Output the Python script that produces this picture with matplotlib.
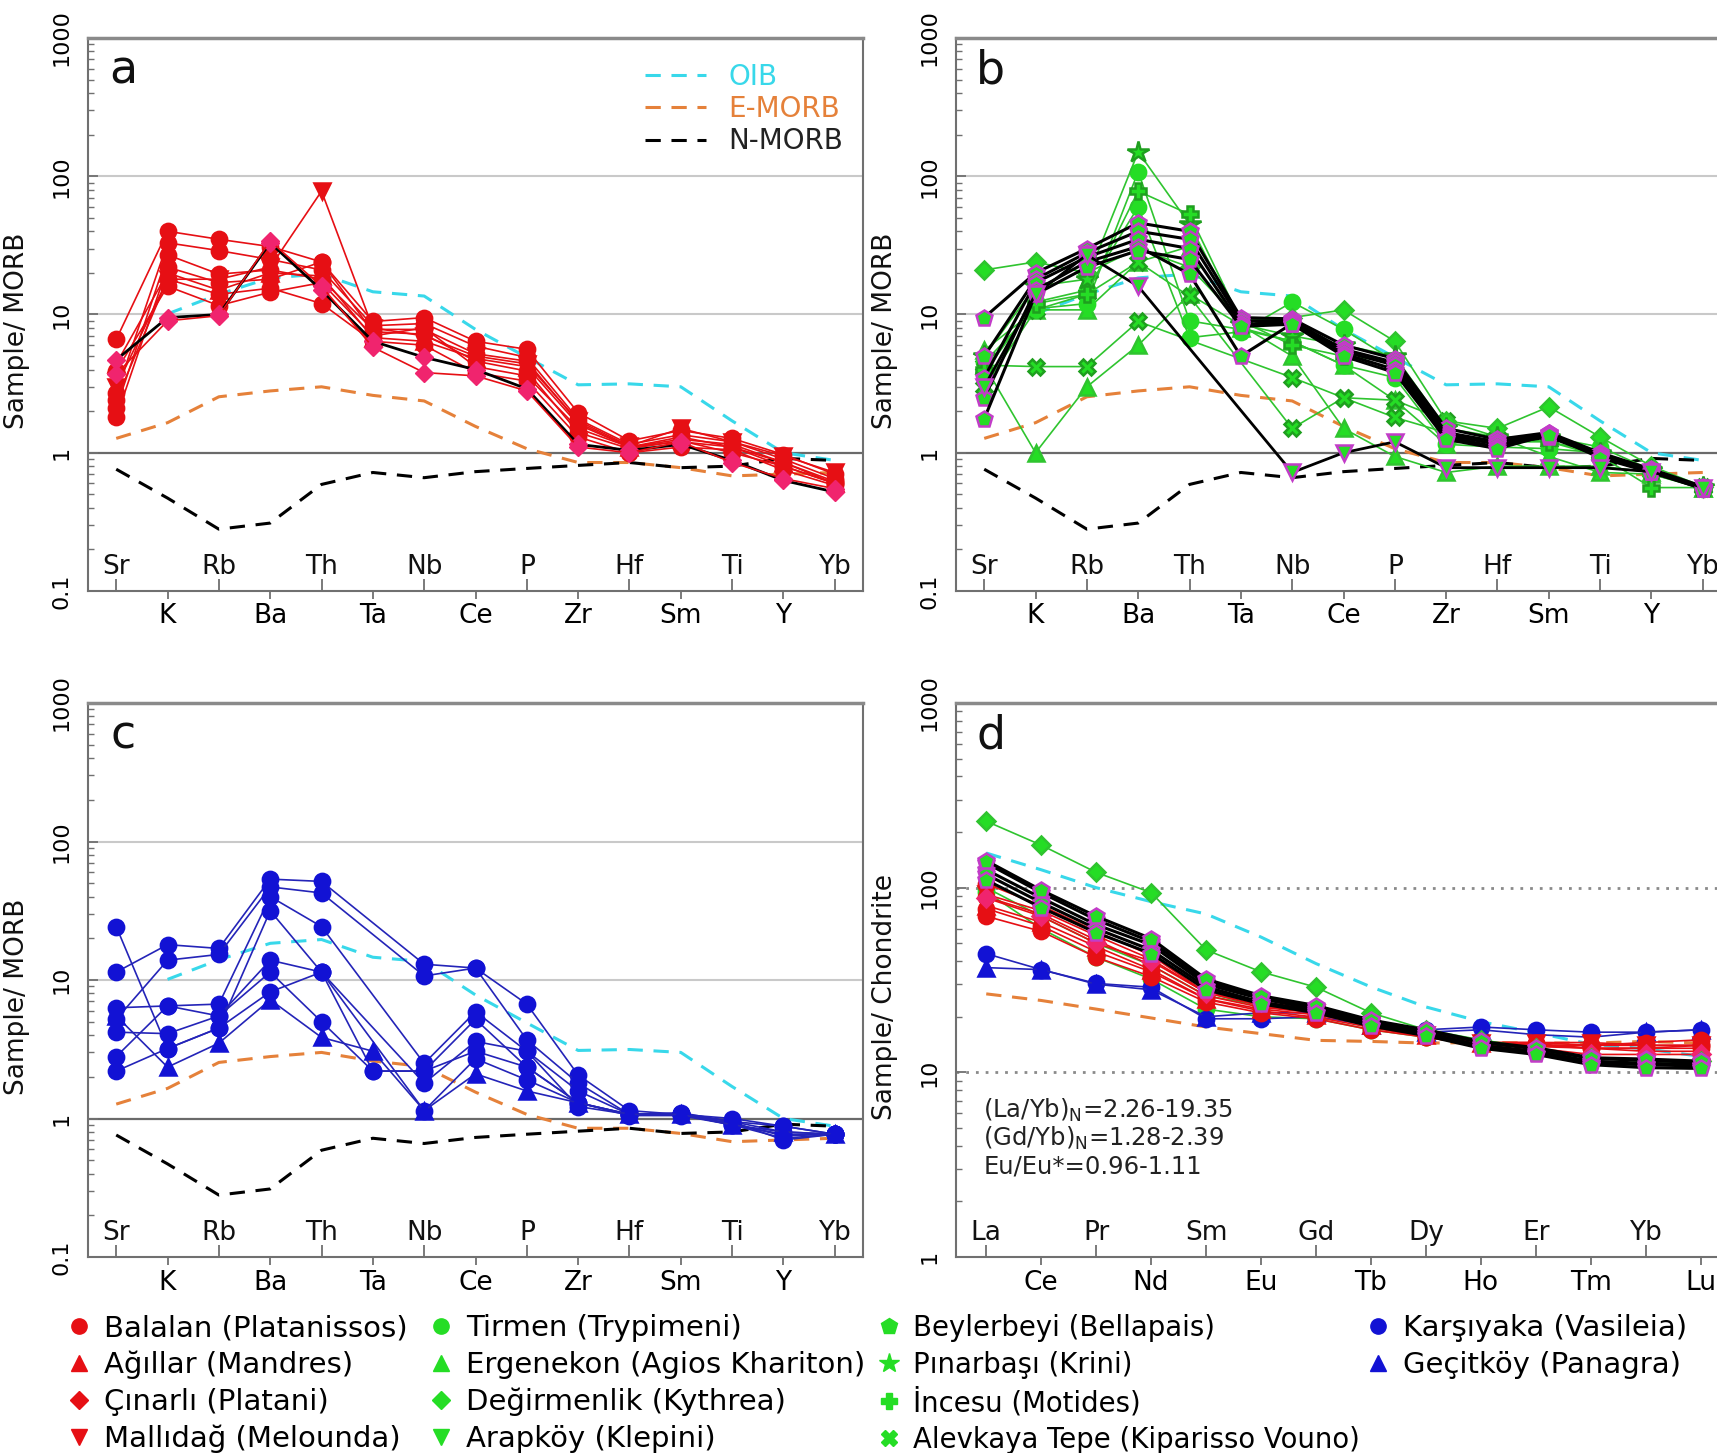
import numpy as np
import matplotlib
matplotlib.use("Agg")
import matplotlib.pyplot as plt
from matplotlib.lines import Line2D
from matplotlib.transforms import blended_transform_factory

plt.rcParams['font.family'] = ['DejaVu Sans']
nan = np.nan

# ---------------- categories ----------------
spider_elements = ["Sr", "K", "Rb", "Ba", "Th", "Ta", "Nb", "Ce", "P", "Zr", "Hf", "Sm", "Ti", "Y", "Yb"]
ree_elements = ["La", "Ce", "Pr", "Nd", "Sm", "Eu", "Gd", "Tb", "Dy", "Ho", "Er", "Tm", "Yb", "Lu"]

# ---------------- reference patterns ----------------
oib_morb = [nan, 10.1, 14, 18.4, 19.6, 14.6, 13.6, 7.8, 4.9, 3.1, 3.15, 3.0, 1.7, 1.0, 0.88]
emorb_morb = [1.27, 1.65, 2.54, 2.8, 3.0, 2.6, 2.37, 1.55, 1.07, 0.85, 0.85, 0.78, 0.68, 0.7, 0.72]
nmorb_morb = [0.76, 0.47, 0.28, 0.31, 0.59, 0.72, 0.66, 0.73, 0.77, 0.81, 0.85, 0.78, 0.8, 0.91, 0.88]
oib_chon = [154, 125, 100, 84, 72, 54, 38.8, 29, 22.6, 18.8, 16.4, 14.2, 13.4, 12.2]
emorb_chon = [26.6, 24.5, 22, 19.7, 17.6, 16.2, 14.9, 14.7, 14.4, 14.5, 14.4, 14.4, 14.7, 14.4]

# ---------------- panel a (MORB-normalised) ----------------
balalan_a = [
    [6.6, 40, 35, 31, 24, 8.9, 9.5, 6.4, 5.6, 1.95, 1.22, 1.45, 1.27, 0.97, 0.70],
    [2.7, 33, 29, 25, 21, 8.3, 8.6, 5.9, 4.9, 1.75, 1.15, 1.35, 1.20, 0.90, 0.65],
    [2.1, 27, 19.6, 21, 18, 7.8, 7.8, 5.2, 4.6, 1.65, 1.10, 1.30, 1.10, 0.85, 0.62],
    [1.8, 22, 17, 18, 24, 7.5, 7.2, 4.6, 3.9, 1.40, 1.07, 1.22, 1.00, 0.80, 0.60],
    [2.4, 18, 14, 15.5, 12, 6.4, 6.0, 3.8, 3.3, 1.30, 1.00, 1.10, 1.05, 0.75, 0.58],
    [3.9, 16, 11.6, 14.5, 17, 7.0, 8.0, 4.2, 3.6, 1.50, 1.10, 1.20, 1.10, 0.80, 0.60],
]
agillar_a = [[4.4, 20, 15, 20, 19, 6.8, 6.4, 4.8, 4.2, 1.6, 1.10, 1.25, 1.15, 0.85, 0.60]]
cinarli_a = [
    [4.7, 9.5, 10, 33, 15, 6.4, 4.9, 4.0, 2.9, 1.15, 1.04, 1.15, 0.88, 0.63, 0.52],
    [3.7, 9.0, 9.8, 34, 16, 5.8, 3.8, 3.6, 2.8, 1.10, 1.00, 1.20, 0.85, 0.65, 0.55],
]
mallidag_a = [[3.0, 18, 18, 22, 78, 8.0, 7.0, 5.0, 4.4, 1.7, 1.12, 1.5, 1.2, 0.95, 0.72]]

# ---------------- panel b ----------------
beylerbeyi_b = [
    [9.5, 20, 30, 46, 40, 9.5, 9.3, 6.0, 4.8, 1.50, 1.25, 1.40, 1.00, 0.76, 0.57],
    [5.0, 18, 28, 40, 35, 9.0, 9.0, 5.6, 4.5, 1.40, 1.20, 1.35, 0.97, 0.75, 0.56],
    [3.5, 17, 26, 35, 30, 8.5, 8.8, 5.4, 4.3, 1.35, 1.15, 1.30, 0.95, 0.74, 0.56],
    [2.5, 15, 24, 31, 19.6, 5.0, 8.6, 5.2, 4.0, 1.30, 1.10, 1.40, 0.93, 0.73, 0.55],
    [1.76, 14, 22, 29, 25, 8.2, 8.5, 5.0, 3.8, 1.25, 1.07, 1.35, 0.92, 0.72, 0.55],
]
arapkoy_b = [[3.0, 14, 27, 16, nan, nan, 0.72, 1.0, 1.2, 0.78, 0.78, 0.78, 0.78, 0.73, 0.56]]
degirmenlik_b = [[21, 24, 20, 30, 22, 9, 9.5, 10.8, 6.4, 1.7, 1.5, 2.15, 1.3, 0.8, 0.57]]
pinarbasi_b = [[5, 16, 18, 150, 45, 8.5, 7, 6, 5, 1.5, 1.3, 1.3, 1.0, 0.75, 0.57]]
incesu_b = [[4, 12, 14, 78, 53, 9, 6, 5, 4.6, 1.4, 1.2, 1.2, 0.95, 0.56, 0.56]]
tirmen_b = [
    [4.5, 11, 12, 108, 9, 7.8, 6.4, 4.3, 3.5, 1.15, 1.1, 1.07, 1.0, 0.7, 0.55],
    [3.8, 12.3, 15, 60, 6.8, 7.5, 12.3, 7.8, 4.6, 1.3, 1.2, 1.3, 1.1, 0.75, 0.57],
]
ergenekon_b = [
    [4.3, 1.0, 3.0, 6.0, 14, nan, 5, 1.5, 0.94, 0.72, 0.8, 0.8, 0.8, 0.72, 0.56],
    [5.5, 10.8, 10.8, 24, 31, 8, 6.4, 4.3, 2.4, 1.15, 1.3, 0.94, 0.72, 0.7, 0.56],
]
alevkaya_b = [
    [4.3, 4.2, 4.2, 8.9, nan, nan, 3.5, 2.5, 1.8, 1.4, 1.2, 1.3, 0.95, 0.72, 0.56],
    [3.0, 10.8, 14, 24, 13.5, nan, 1.5, 2.5, 2.4, 1.7, 1.3, 1.2, 1.0, 0.75, 0.57],
]

# ---------------- panel c ----------------
karsiyaka_c = [
    [11.4, 18, 16.9, 53.5, 51.5, nan, 13, 12.2, 6.7, 2.06, 1.14, 1.07, 1.0, 0.88, 0.77],
    [5.2, 13.9, 15.3, 47, 42.5, nan, 10.7, 12.2, 3.7, 1.8, 1.07, 1.07, 0.9, 0.77, 0.77],
    [2.8, 6.5, 6.7, 40, 24.3, nan, 2.5, 5.9, 3.06, 1.58, 1.07, 1.1, 0.95, 0.88, 0.77],
    [24.3, 3.2, 4.5, 31.6, 11.4, 2.2, 2.2, 5.2, 2.35, 1.3, 1.07, 1.07, 0.95, 0.70, 0.77],
    [6.3, 6.5, 5.5, 13.9, 11.4, nan, 1.8, 3.6, 3.06, 1.22, 1.07, 1.07, 0.92, 0.75, 0.77],
    [4.2, 4.1, 5.5, 11.4, 5.0, 2.2, 2.2, 3.06, 2.35, 1.3, 1.07, 1.07, 0.95, 0.80, 0.77],
    [2.2, 3.2, 4.5, 8.2, 11.4, nan, 1.14, 2.7, 1.9, 1.3, 1.05, 1.05, 0.9, 0.72, 0.77],
]
gecitkoy_c = [[5.5, 2.35, 3.5, 7.2, 3.85, 3.06, 1.14, 2.1, 1.58, 1.3, 1.07, 1.07, 0.9, 0.8, 0.77]]

# ---------------- panel d (chondrite-normalised REE) ----------------
balalan_d = [
    [89, 72, 52, 38, 26, 22.5, 21, 18.5, 16, 14.5, 14.3, 13.5, 13.5, 14],
    [77, 62, 45, 35, 24.9, 21.5, 19.9, 17.5, 15.5, 14, 13.8, 13.5, 13.5, 13.5],
    [70, 58, 42, 33, 24, 21, 19.5, 17, 15.5, 14, 14, 14, 14.5, 15],
    [105, 80, 58, 43, 27, 23, 21.5, 18.5, 16.5, 14.5, 14.5, 14, 14, 14],
]
agillar_d = [[80, 65, 48, 36, 25, 22, 20.5, 18, 16, 14.5, 14, 13.5, 13, 13]]
cinarli_d = [[88, 70, 50, 40, 27, 24, 22, 19, 16.5, 14.5, 13.5, 12.5, 12.5, 12.5]]
mallidag_d = [[92, 75, 55, 41, 27, 23, 21, 18, 16, 14.5, 14.5, 14.5, 14, 14]]
beylerbeyi_d = [
    [136, 94, 67, 51, 31, 25.5, 22.6, 19, 16.8, 14.5, 13.4, 11.9, 11.6, 11.3],
    [125, 88, 63, 49, 30, 25, 22, 18.5, 16.3, 14, 13, 11.5, 11.2, 11],
    [118, 83, 60, 46, 29, 24, 21.5, 18, 16, 13.8, 12.8, 11.2, 11, 10.8],
    [140, 97, 70, 53, 32, 26, 23, 19.2, 17, 14.7, 13.6, 12, 11.8, 11.5],
    [110, 78, 57, 44, 28, 23.5, 21, 17.8, 15.8, 13.5, 12.5, 11, 10.6, 10.5],
]
degirmenlik_d = [[229, 170, 121, 94, 46, 35, 28.9, 21, 17, 15, 13.5, 12, 11.5, 11.5]]
tirmen_d = [
    [100, 70, 50, 38, 26, 23, 21, 18, 16, 14, 13, 12, 11.5, 11.5],
    [95, 60, 42, 32, 22, 20, 19.5, 17, 15.5, 14, 13, 12, 11.5, 11.3],
]
karsiyaka_d = [[43.9, 36, 30.3, 28.9, 19.5, 19.5, 20, 18, 17, 17.6, 17, 16.5, 16.5, 17]]
gecitkoy_d = [[36.9, 36, 30, 28, 20, 21, 21, 18, 16.5, 17, 16, 15.5, 16.5, 17]]

legend_columns = [
    ["Balalan (Platanissos)", "Ağıllar (Mandres)", "Çınarlı (Platani)", "Mallıdağ (Melounda)"],
    ["Tirmen (Trypimeni)", "Ergenekon (Agios Khariton)", "Değirmenlik (Kythrea)", "Arapköy (Klepini)"],
    ["Beylerbeyi (Bellapais)", "Pınarbaşı (Krini)", "İncesu (Motides)", "Alevkaya Tepe (Kiparisso Vouno)"],
    ["Karşıyaka (Vasileia)", "Geçitköy (Panagra)"],
]

# ---------------- styles ----------------
RED = '#e60f14'
PINK = '#f0246e'
GREEN = '#25dd25'
GLINE = '#2fc42f'
BLUE = '#1212d4'
BLINE = '#2424b8'
MAG = '#c23cc8'
CYAN = '#38d8ea'
ORANGE = '#e5813a'

style = {
    "Balalan (Platanissos)": dict(marker='o', mfc=RED, mec=RED, lc=RED, lw=1.2, ms=11),
    "Ağıllar (Mandres)": dict(marker='^', mfc=RED, mec=RED, lc=RED, lw=1.2, ms=11),
    "Çınarlı (Platani)": dict(marker='D', mfc=PINK, mec=PINK, lc=RED, lw=1.2, ms=9, lmfc=RED),
    "Mallıdağ (Melounda)": dict(marker='v', mfc=RED, mec=RED, lc=RED, lw=1.2, ms=12),
    "Tirmen (Trypimeni)": dict(marker='o', mfc=GREEN, mec=GREEN, lc=GLINE, lw=1.2, ms=11),
    "Ergenekon (Agios Khariton)": dict(marker='^', mfc=GREEN, mec=GLINE, lc=GLINE, lw=1.2, ms=11),
    "Değirmenlik (Kythrea)": dict(marker='D', mfc=GREEN, mec=GLINE, lc=GLINE, lw=1.2, ms=9),
    "Arapköy (Klepini)": dict(marker='v', mfc=GREEN, mec=MAG, lc='black', lw=2.0, ms=11, lmec=GREEN),
    "Beylerbeyi (Bellapais)": dict(marker='p', mfc=GREEN, mec=MAG, lc='black', lw=2.2, ms=12, lmec=GREEN),
    "Pınarbaşı (Krini)": dict(marker='*', mfc=GREEN, mec='#1f9f1f', lc=GLINE, lw=1.2, ms=16),
    "İncesu (Motides)": dict(marker='P', mfc=GREEN, mec='#1f9f1f', lc=GLINE, lw=1.2, ms=12),
    "Alevkaya Tepe (Kiparisso Vouno)": dict(marker='X', mfc=GREEN, mec='#1f9f1f', lc=GLINE, lw=1.2, ms=12),
    "Karşıyaka (Vasileia)": dict(marker='o', mfc=BLUE, mec=BLUE, lc=BLINE, lw=1.2, ms=11),
    "Geçitköy (Panagra)": dict(marker='^', mfc=BLUE, mec=BLUE, lc=BLINE, lw=1.2, ms=11),
}

fig = plt.figure(figsize=(17.17, 14.53), dpi=100)
W, H = 1717, 1453
def rect(l, t, r, b):
    return [l / W, 1 - b / H, (r - l) / W, (b - t) / H]

ax_a = fig.add_axes(rect(88, 38, 863, 591))
ax_b = fig.add_axes(rect(956, 38, 1731, 591))
ax_c = fig.add_axes(rect(88, 703, 863, 1257))
ax_d = fig.add_axes(rect(956, 703, 1731, 1257))

SPINE = '#707070'

def setup(ax, names, ylo, yhi, ylabel, letter, dotted=False):
    n = len(names)
    x = np.arange(n)
    ax.set_yscale('log')
    ax.set_ylim(ylo, yhi)
    ax.set_xlim(-0.55, n - 1 + 0.55)
    for s in ax.spines.values():
        s.set_color(SPINE)
        s.set_linewidth(1.5)
    ax.spines['top'].set_linewidth(2.5)
    ax.spines['top'].set_color('#8a8a8a')
    upper = x[0::2]
    lower = x[1::2]
    ax.set_xticks(upper)
    ax.set_xticklabels([])
    ax.set_xticks(lower, minor=True)
    ax.set_xticklabels(names[1::2], minor=True)
    ax.tick_params(axis='x', which='major', direction='in', length=8.5, width=1.3, color=SPINE)
    ax.tick_params(axis='x', which='minor', direction='out', length=6, width=1.3, color=SPINE,
                   pad=3, labelsize=19)
    tr = blended_transform_factory(ax.transData, ax.transAxes)
    for xi, nm in zip(upper, names[0::2]):
        ax.text(xi, 0.031, nm, transform=tr, ha='center', va='baseline', fontsize=19, color='#111')
    ax.tick_params(axis='y', which='both', direction='in', color=SPINE, labelsize=16,
                   labelrotation=90, pad=12)
    ax.tick_params(axis='y', which='major', length=7, width=1.3)
    ax.tick_params(axis='y', which='minor', length=4, width=1.0)
    for lab in ax.get_yticklabels():
        lab.set_va('center')
    ax.yaxis.set_major_formatter(matplotlib.ticker.FuncFormatter(lambda v, p: f"{v:g}"))
    ax.yaxis.set_minor_formatter(matplotlib.ticker.NullFormatter())
    ax.set_ylabel(ylabel, fontsize=19, color='#111')
    ax.yaxis.set_label_coords(-0.075, 0.47)
    ax.text(0.045, 0.94, letter, transform=ax.transAxes, ha='center', va='center', fontsize=33, color='#111')
    if dotted:
        for v in (10, 100):
            ax.axhline(v, color='#8a8a8a', lw=2, ls=(0, (1, 2.5)), zorder=1)
    else:
        for v in (10, 100):
            ax.axhline(v, color='#c9c9c9', lw=1.5, zorder=1)
        ax.axhline(1, color='#6a6a6a', lw=1.6, zorder=1)
    return x

def plot_group(ax, x, data, name):
    st = style[name]
    for row in data:
        y = np.array(row, dtype=float)
        ok = ~np.isnan(y)
        ax.plot(x[ok], y[ok], color=st['lc'], lw=st['lw'], marker=st['marker'], ms=st['ms'],
                mfc=st['mfc'], mec=st['mec'], mew=1.8, zorder=4 if st['lc'] == 'black' else 3)

def refs(ax, x, with_n=True, oib=oib_morb, emorb=emorb_morb):
    for vals, c in ((oib, CYAN), (emorb, ORANGE)):
        y = np.array(vals, dtype=float)
        ok = ~np.isnan(y)
        ax.plot(x[ok], y[ok], color=c, lw=2.2, ls=(0, (5, 3.5)), zorder=2)
    if with_n:
        y = np.array(nmorb_morb, dtype=float)
        ax.plot(x, y, color='black', lw=2.2, ls=(0, (5, 3.5)), zorder=2)

xa = setup(ax_a, spider_elements, 0.1, 1000, "Sample/ MORB", "a")
refs(ax_a, xa)
plot_group(ax_a, xa, balalan_a, "Balalan (Platanissos)")
plot_group(ax_a, xa, agillar_a, "Ağıllar (Mandres)")
plot_group(ax_a, xa, mallidag_a, "Mallıdağ (Melounda)")
# one Çınarlı sample drawn with black line
for i, row in enumerate(cinarli_a):
    y = np.array(row, dtype=float)
    ax_a.plot(xa, y, color='black' if i == 0 else RED, lw=2.0 if i == 0 else 1.2, marker='D', ms=9,
              mfc=PINK, mec=PINK, zorder=4)

# legend in panel a
ref_handles = [Line2D([], [], color=CYAN, lw=2.2, ls=(0, (5, 3.5))),
               Line2D([], [], color=ORANGE, lw=2.2, ls=(0, (5, 3.5))),
               Line2D([], [], color='black', lw=2.2, ls=(0, (5, 3.5)))]
leg_a = ax_a.legend(ref_handles, ["OIB", "E-MORB", "N-MORB"], loc='upper right', frameon=False,
                    fontsize=20, handlelength=2.2, handletextpad=0.8, labelspacing=0.15,
                    bbox_to_anchor=(1.0, 0.99), borderaxespad=0.3)
for t, c in zip(leg_a.get_texts(), (CYAN, ORANGE, '#222')):
    t.set_color(c)

xb = setup(ax_b, spider_elements, 0.1, 1000, "Sample/ MORB", "b")
refs(ax_b, xb)
plot_group(ax_b, xb, ergenekon_b, "Ergenekon (Agios Khariton)")
plot_group(ax_b, xb, alevkaya_b, "Alevkaya Tepe (Kiparisso Vouno)")
plot_group(ax_b, xb, tirmen_b, "Tirmen (Trypimeni)")
plot_group(ax_b, xb, degirmenlik_b, "Değirmenlik (Kythrea)")
plot_group(ax_b, xb, pinarbasi_b, "Pınarbaşı (Krini)")
plot_group(ax_b, xb, incesu_b, "İncesu (Motides)")
plot_group(ax_b, xb, beylerbeyi_b, "Beylerbeyi (Bellapais)")
plot_group(ax_b, xb, arapkoy_b, "Arapköy (Klepini)")

xc = setup(ax_c, spider_elements, 0.1, 1000, "Sample/ MORB", "c")
refs(ax_c, xc)
plot_group(ax_c, xc, karsiyaka_c, "Karşıyaka (Vasileia)")
plot_group(ax_c, xc, gecitkoy_c, "Geçitköy (Panagra)")

xd = setup(ax_d, ree_elements, 1, 1000, "Sample/ Chondrite", "d", dotted=True)
refs(ax_d, xd, with_n=False, oib=oib_chon, emorb=emorb_chon)
plot_group(ax_d, xd, tirmen_d, "Tirmen (Trypimeni)")
plot_group(ax_d, xd, karsiyaka_d, "Karşıyaka (Vasileia)")
plot_group(ax_d, xd, gecitkoy_d, "Geçitköy (Panagra)")
plot_group(ax_d, xd, balalan_d, "Balalan (Platanissos)")
plot_group(ax_d, xd, agillar_d, "Ağıllar (Mandres)")
plot_group(ax_d, xd, mallidag_d, "Mallıdağ (Melounda)")
plot_group(ax_d, xd, cinarli_d, "Çınarlı (Platani)")
plot_group(ax_d, xd, degirmenlik_d, "Değirmenlik (Kythrea)")
plot_group(ax_d, xd, beylerbeyi_d, "Beylerbeyi (Bellapais)")
for yy, txt in ((0.264, r"(La/Yb)$_\mathregular{N}$=2.26-19.35"),
                (0.214, r"(Gd/Yb)$_\mathregular{N}$=1.28-2.39"),
                (0.164, "Eu/Eu*=0.96-1.11")):
    ax_d.text(0.035, yy, txt, transform=ax_d.transAxes, fontsize=17.5, va='center', ha='left', color='#222')

# bottom legend: one legend per column
col_marker_x = [79, 441, 889, 1378]
col_fontsize = [21, 21, 19.8, 21]
for cx, fs, labels in zip(col_marker_x, col_fontsize, legend_columns):
    fs_px = fs * 100 / 72
    handles = []
    for nm in labels:
        st = style[nm]
        handles.append(Line2D([], [], ls='none', marker=st['marker'],
                              ms=st['ms'] if st['marker'] != '*' else 15,
                              mfc=st.get('lmfc', st['mfc']),
                              mec=st.get('lmec', st.get('lmfc', st['mfc'])), mew=1.0))
    leg = fig.legend(handles, labels, loc='upper left',
                     bbox_to_anchor=((cx - fs_px / 2) / W, 1 - 1314 / H),
                     frameon=False, fontsize=fs, handlelength=1.0, handletextpad=0.36 * 21 / fs,
                     labelspacing=8.8 / fs_px, borderaxespad=0, borderpad=0)

fig.savefig("out.png", dpi=100)
